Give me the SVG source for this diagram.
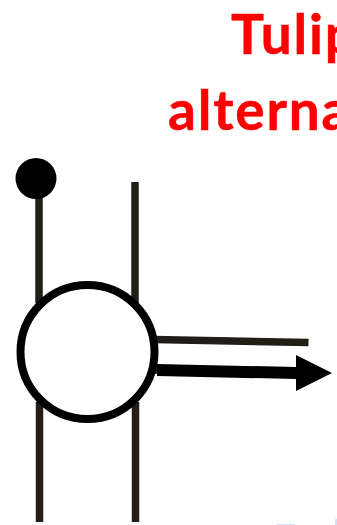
<svg xmlns="http://www.w3.org/2000/svg" width="337" height="525" viewBox="0 0 337 525">
<style>
.w{stroke:#211e18;stroke-width:7.500;fill:none}
.t{font-family:"Lato","Open Sans","Liberation Sans",sans-serif;font-weight:700;font-size:55px;letter-spacing:1.800px;fill:#ff0000;stroke:#ff0000;stroke-width:0.500}
</style>
<rect width="337" height="525" fill="#ffffff"/>
<g id="connectors">
<path class="w" d="M39 190V303M39.500 402V522M135 182V303M135.500 402V522M154 339.500L308.500 342.500M152 370H158"/>
<path d="M157 364L296 367V355L332 373L296 391V379L157 376Z" fill="#000"/>
</g>
<g id="pin"><circle cx="36" cy="178.500" r="20.500" fill="#000"/></g>
<g id="ring"><circle cx="87.500" cy="352" r="67" fill="#fff" stroke="#000" stroke-width="8"/></g>
<g id="title">
<text class="t" x="231" y="54">Tulip</text>
<text class="t" x="168" y="130">alterna</text>
</g>
<path d="M277 524H295V525H277ZM335 519H337V525H335Z" fill="#cfe0fa"/>
</svg>
